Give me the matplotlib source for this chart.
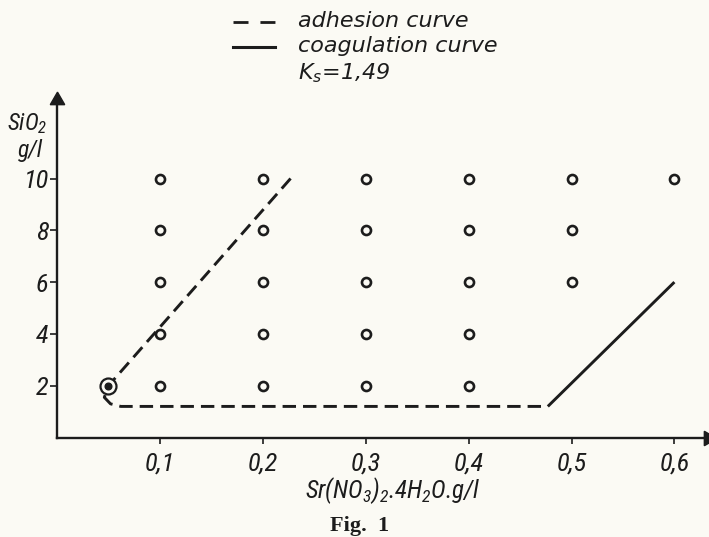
import matplotlib
matplotlib.use("Agg")
import matplotlib.pyplot as plt
from matplotlib.lines import Line2D

# ---------------- data ----------------
x_ticks = [0.1, 0.2, 0.3, 0.4, 0.5, 0.6]
x_tick_labels = ["0,1", "0,2", "0,3", "0,4", "0,5", "0,6"]
y_ticks = [2, 4, 6, 8, 10]
y_tick_labels = ["2", "4", "6", "8", "10"]

# experiment points (Sr(NO3)2 g/l, SiO2 g/l)
pts_x = [0.1, 0.1, 0.1, 0.1, 0.1,
         0.2, 0.2, 0.2, 0.2, 0.2,
         0.3, 0.3, 0.3, 0.3, 0.3,
         0.4, 0.4, 0.4, 0.4, 0.4,
         0.5, 0.5, 0.5,
         0.6]
pts_y = [10, 8, 6, 4, 2,
         10, 8, 6, 4, 2,
         10, 8, 6, 4, 2,
         10, 8, 6, 4, 2,
         10, 8, 6,
         10]

# special (circled) point
special_x = [0.05]
special_y = [2]

# adhesion curve (dashed)
adhesion_x = [0.227, 0.050, 0.046, 0.052, 0.062, 0.477]
adhesion_y = [10.0, 2.0, 1.55, 1.3, 1.2, 1.2]

# coagulation curve (solid)
coag_x = [0.477, 0.600]
coag_y = [1.2, 6.0]

ks_text = r"$\mathsf{K_s}$=1,49"

# ---------------- style ----------------
BG = "#fbfaf4"
INK = "#1c1c1c"
FONT = ["Roboto Condensed", "DejaVu Sans Condensed", "DejaVu Sans"]
WIDE = ["DejaVu Sans"]
plt.rcParams["mathtext.fontset"] = "custom"
plt.rcParams["mathtext.rm"] = "Roboto Condensed:italic"
plt.rcParams["mathtext.it"] = "Roboto Condensed:italic"
plt.rcParams["mathtext.sf"] = "DejaVu Sans:italic"

W, H = 709, 537
fig = plt.figure(figsize=(W / 100, H / 100), dpi=100, facecolor=BG)

x0_px, sx = 57.0, 1029.0     # pixel of x=0, pixels per unit
y0_px, sy = 437.5, 25.9      # pixel of y=0, pixels per unit
right_px, top_px = 708.0, 100.0
ax = fig.add_axes([x0_px / W, (H - y0_px) / H,
                   (right_px - x0_px) / W, (y0_px - top_px) / H])
ax.set_facecolor(BG)
ax.set_xlim(0, (right_px - x0_px) / sx)
ax.set_ylim(0, (y0_px - top_px) / sy)

for s in ["top", "right"]:
    ax.spines[s].set_visible(False)
for s in ["left", "bottom"]:
    ax.spines[s].set_linewidth(1.7)
    ax.spines[s].set_color(INK)

# axis arrows
ax.plot(1, 0, marker=(3, 0, -90), color=INK, markersize=12, transform=ax.transAxes,
        clip_on=False)
ax.plot(0, 1, marker=(3, 0, 0), color=INK, markersize=12, transform=ax.transAxes,
        clip_on=False)

ax.set_xticks(x_ticks)
ax.set_xticklabels(x_tick_labels)
ax.set_yticks(y_ticks)
ax.set_yticklabels(y_tick_labels)
ax.tick_params(axis="x", direction="out", length=4, width=1.2, pad=6, colors=INK,
               labelsize=19)
ax.tick_params(axis="y", direction="out", length=5, width=1.2, pad=1, colors=INK,
               labelsize=19)
for lab in ax.get_xticklabels() + ax.get_yticklabels():
    lab.set_family(FONT)
    lab.set_style("italic")

# curves
ax.plot(adhesion_x, adhesion_y, color=INK, lw=2.1, dashes=(4.6, 2.4),
        solid_joinstyle="round", dash_capstyle="butt", clip_on=False)
ax.plot(coag_x, coag_y, color=INK, lw=2.1, solid_capstyle="butt")

# points
ax.plot(pts_x, pts_y, linestyle="none", marker="o", markersize=6.5,
        markerfacecolor=BG, markeredgecolor=INK, markeredgewidth=1.9)
ax.plot(special_x, special_y, linestyle="none", marker="o", markersize=11.5,
        markerfacecolor=BG, markeredgecolor=INK, markeredgewidth=1.6, zorder=5)
ax.plot(special_x, special_y, linestyle="none", marker="o", markersize=4.8,
        color=INK, zorder=6)

# axis titles
fig.text(7 / W, 1 - 124 / H, "Si$O_2$", family=FONT, style="italic", fontsize=17,
         color=INK, ha="left", va="center")
fig.text(18 / W, 1 - 151 / H, "g/l", family=FONT, style="italic", fontsize=17,
         color=INK, ha="left", va="center")
fig.text(393 / W, 1 - 491 / H, "Sr(N$O_3$)$_2$.4$H_2$O.g/l", family=FONT,
         style="italic", fontsize=18, color=INK, ha="center", va="center")
fig.text(360 / W, 1 - 526 / H, "Fig.  1", family=["Liberation Serif", "DejaVu Serif"],
         weight="bold", fontsize=16, color=INK, ha="center", va="center")

# legend at top
fig.add_artist(Line2D([233 / W, 275 / W], [1 - 22 / H, 1 - 22 / H], color=INK,
                      lw=2.0, dashes=(5.4, 4.3), transform=fig.transFigure))
fig.add_artist(Line2D([233 / W, 275 / W], [1 - 47 / H, 1 - 47 / H], color=INK,
                      lw=2.2, transform=fig.transFigure))
fig.text(298 / W, 1 - 21 / H, "adhesion curve", family=WIDE, style="italic",
         fontsize=16, color=INK, ha="left", va="center")
fig.text(298 / W, 1 - 46 / H, "coagulation curve", family=WIDE, style="italic",
         fontsize=16, color=INK, ha="left", va="center")
fig.text(298 / W, 1 - 73 / H, ks_text, family=WIDE, style="italic",
         fontsize=16, color=INK, ha="left", va="center")

fig.savefig("out.png", dpi=100, facecolor=BG)
